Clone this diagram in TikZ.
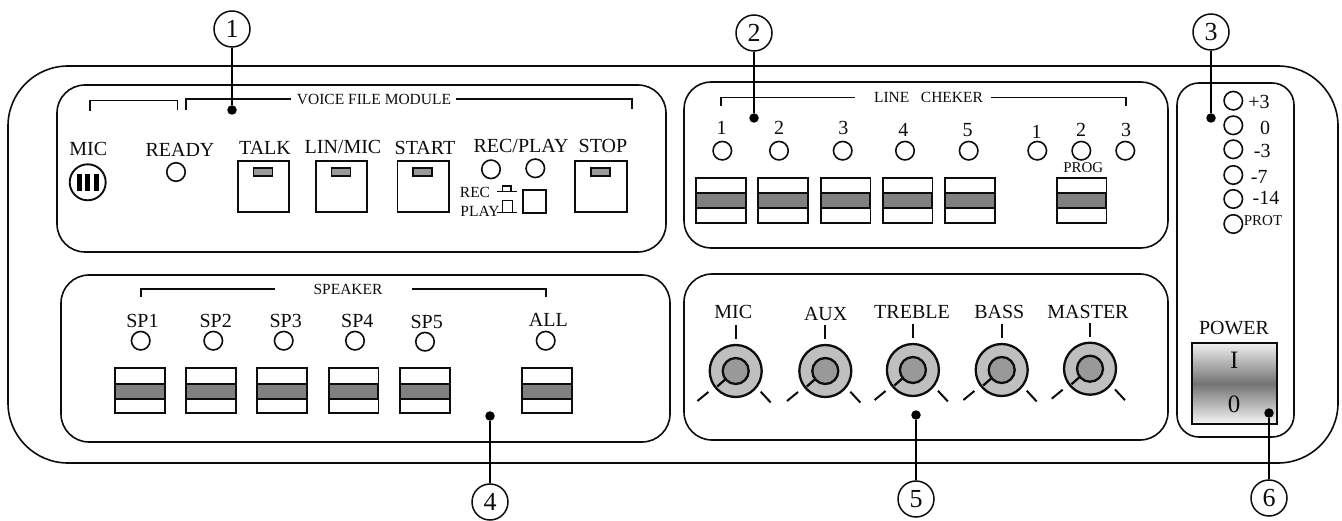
\documentclass[tikz,border=0pt]{standalone}
\usepackage{fontspec}
\setmainfont{Liberation Serif}
\newcommand{\bigf}{\fontsize{20}{20}\selectfont}
\newcommand{\smf}{\fontsize{15.5}{15.5}\selectfont}
\newcommand{\hugef}{\fontsize{25}{25}\selectfont}
\definecolor{bandgray}{gray}{0.5}
\definecolor{indgray}{gray}{0.6}
\definecolor{ringgray}{gray}{0.75}
\definecolor{hubgray}{gray}{0.6}
\definecolor{ink}{gray}{0.05}
\tikzset{
  x=1pt,y=-1pt,
  every node/.style={text=ink},
  ln/.style={draw=ink,line width=1.8pt},
  panel/.style={ln,line width=1.6pt,rounded corners=#1},
  big/.style={inner sep=0pt,font=\bigf},
  small/.style={inner sep=0pt,font=\smf},
  led/.style={circle,draw=ink,line width=1.6pt,fill=white,minimum size=18.5pt,inner sep=0pt},
  callout/.style={circle,draw=ink,line width=1.5pt,fill=white,minimum size=36pt,inner sep=0pt,font=\fontsize{26}{26}\selectfont},
  tipdot/.style={circle,fill=black,minimum size=9.5pt,inner sep=0pt},
  pushbtn/.style={ln,fill=white},
  indicator/.style={draw=ink,line width=1.4pt,fill=indgray},
  band/.style={draw=ink,line width=1.9pt,fill=bandgray},
  bracket/.style={ln,line width=1.6pt},
  leader/.style={draw=black,line width=1.6pt},
}
% switch: left x
\newcommand{\rockA}[1]{%
  \path[pushbtn] (#1,177.7) rectangle ++(49.7,45);
  \path[band] (#1,193.3) rectangle ++(49.7,14.7);}
\newcommand{\rockB}[1]{%
  \path[pushbtn] (#1,367.7) rectangle ++(49.7,45.6);
  \path[band] (#1,384) rectangle ++(49.7,14.7);}
% push button: left x
\newcommand{\pushb}[1]{%
  \path[pushbtn] (#1,160.7) rectangle ++(51.6,51.6);
  \path[indicator] ({#1+15.6},168) rectangle ++(19,8);}
% knob: x, y
\newcommand{\knob}[2]{%
  \path[draw=ink,line width=2.3pt,fill=ringgray] (#1,#2) circle[radius=26];
  \path[draw=ink,line width=2.3pt] ({#1-18.5},{#2+15.5}) -- ({#1-10},{#2+8});
  \path[draw=ink,line width=2.3pt,fill=hubgray] (#1,#2) circle[radius=13];
  \path[draw=ink,line width=2pt] (#1,{#2-46}) -- (#1,{#2-32});
  \path[draw=ink,line width=2pt] ({#1-38.3},{#2+30}) -- ({#1-27.3},{#2+21});
  \path[draw=ink,line width=2pt] ({#1+25},{#2+20.7}) -- ({#1+35},{#2+31.5});}
\begin{document}
\begin{tikzpicture}
\useasboundingbox (0,0) rectangle (1342,521);
\fill[white] (0,0) rectangle (1342,521);
% housing and panels
\path[panel=60pt] (8,66) rectangle (1338,463);
\path[panel=28pt] (57,85) rectangle (666,252);
\path[panel=27pt] (684,82) rectangle (1168,248);
\path[panel=22pt] (1177,83) rectangle (1294,437);
\path[panel=28pt] (61,275) rectangle (670,442);
\path[panel=28pt] (684,274) rectangle (1168,440);

% --- voice file module
\path[bracket] (90,111) -- (90,100.7) -- (177.3,100.7) -- (177.3,110);
\node[small] (vfm) at (374,99) {VOICE FILE MODULE};
\coordinate (vfmL) at (185.7,110);
\coordinate (vfmR) at (631.7,109);
\draw[bracket] (vfmL) |- ([xshift=-6pt]vfm.west);
\draw[bracket] (vfmR) |- ([xshift=5pt]vfm.east);
\node[big] (lmic) at (88.3,149) {MIC};
\node[big] (lready) at (180,150) {READY};
\node[big] (ltalk) at (265,148) {TALK};
\node[big] (llin) at (343,147) {LIN/MIC};
\node[big] (lstart) at (425,148) {START};
\node[big] (lrp) at (521,146) {REC/PLAY};
\node[big] (lstop) at (603,146) {STOP};
\node[led] (ready) at (176,172) {};
\node[led,minimum size=36pt,line width=1.9pt] (micjack) at (87.7,182.3) {};
\foreach \bx in {79.5,87.7,96} \fill[black] (\bx-2.5,174.5) rectangle (\bx+2.5,191.5);
\pushb{237.7}\pushb{315.7}\pushb{397.5}\pushb{575.3}
\node[led] (rp1) at (491,169.3) {};
\node[led] (rp2) at (535.3,168.3) {};
\node[small] (lrec) at (475,192) {REC};
\node[small] (lplay) at (480,211) {PLAY};
\path[ln,line width=1.4pt] (496.7,191.7) -- (516.7,191.7);
\path[ln,line width=1.4pt] (502.3,191.7) |- (511,186) -- (511,191.7);
\path[ln,line width=1.4pt] (497,212.3) -- (517,212.3);
\path[ln,line width=1.4pt] (502.7,212.3) |- (512.3,200.7) -- (512.3,212.3);
\path[ln] (523.3,190) rectangle (545.7,213.3);

% --- line checker
\node[small] (lc) at (928.5,97.7) {LINE\ \ \ CHEKER};
\coordinate (lcL) at (720.7,106);
\coordinate (lcR) at (1125.7,106);
\draw[bracket] (lcL) |- ([xshift=-19pt]lc.west);
\draw[bracket] (lcR) |- ([xshift=8pt]lc.east);
\foreach \nm/\tx/\ty/\lx in {1/721.7/128/722.3,2/779/128/779,3/843.3/128/842.7,4/903.3/130/905,5/967.7/130/968.7,1/1036.7/132/1037.3,2/1081/130/1081.3,3/1126/130/1125.3}{
  \node[big] at (\tx,\ty) {\nm};
  \node[led] at (\lx,150.7) {};
}
\node[small,font=\fontsize{15}{15}\selectfont] (prog) at (1083.3,167.3) {PROG};
\rockA{696}\rockA{758.3}\rockA{820.7}\rockA{882.7}\rockA{945}\rockA{1056.7}

% --- level meter
\foreach \ly in {100.7,125.3,149.3,175,199,224} \node[led] at (1233.3,\ly) {};
\node[big] (m1) at (1259,101.7) {+3};
\node[big] (m2) at (1265,127.7) {0};
\node[big] (m3) at (1262.3,151) {-3};
\node[big] (m4) at (1259.3,177) {-7};
\node[big] (m5) at (1266,198) {-14};
\node[small,font=\fontsize{15}{15}\selectfont] (m6) at (1263,221) {PROT};
\node[big] (lpower) at (1234,328) {POWER};
\shade[top color=black!6,bottom color=black!3,middle color=black!55] (1191.7,343) rectangle (1277.3,424.3);
\path[ln] (1191.7,343) rectangle (1277.3,424.3);
\node[inner sep=0pt,font=\hugef] (pI) at (1234.3,360.7) {I};
\node[inner sep=0pt,font=\hugef] (p0) at (1234,404.3) {0};

% --- speaker
\node[small] (spk) at (348,289) {SPEAKER};
\coordinate (spkL) at (140.7,296.7);
\coordinate (spkR) at (545.7,296.7);
\draw[bracket] (spkL) |- ([xshift=-38pt]spk.west);
\draw[bracket] (spkR) |- ([xshift=29pt]spk.east);
\foreach \nm/\tx/\ty/\lx/\lyy in {SP1/142.5/320.7/140.7/340.7,SP2/215.7/320.7/213.3/340.7,SP3/285.7/320.7/283.7/340.7,SP4/357.3/320.7/355/340.7,SP5/426.7/322.3/425/341.7,ALL/548.3/320/545.7/340.7}{
  \node[big] at (\tx,\ty) {\nm};
  \node[led] at (\lx,\lyy) {};
}
\rockB{115}\rockB{186}\rockB{257.3}\rockB{328.7}\rockB{400.3}\rockB{522.3}

% --- mixer
\node[big] (kmic) at (733.3,311.7) {MIC};
\node[big] (kaux) at (825.7,314.3) {AUX};
\node[big] (ktre) at (912,312.3) {TREBLE};
\node[big] (kbas) at (999.3,312) {BASS};
\node[big] (kmas) at (1088,312) {MASTER};
\knob{735.7}{371}\knob{825.3}{371}\knob{912.9}{370}\knob{1001.7}{370}\knob{1090}{368.7}

% --- callouts
\node[callout] (c1) at (232,29) {1};
\node[callout] (c2) at (754,33) {2};
\node[callout] (c3) at (1211,32) {3};
\node[callout] (c4) at (490,502) {4};
\node[callout] (c5) at (916,499) {5};
\node[callout] (c6) at (1269,498) {6};
\node[tipdot] (d1) at (232,110) {};
\node[tipdot] (d2) at (754,118) {};
\node[tipdot] (d3) at (1211,118) {};
\node[tipdot] (d4) at (490,416) {};
\node[tipdot] (d5) at (916,415) {};
\node[tipdot] (d6) at (1269,413) {};
\draw[leader] (c1) -- (d1);
\draw[leader] (c2) -- (d2);
\draw[leader] (c3) -- (d3);
\draw[leader] (c4) -- (d4);
\draw[leader] (c5) -- (d5);
\draw[leader] (c6) -- (d6);
\end{tikzpicture}
\end{document}
